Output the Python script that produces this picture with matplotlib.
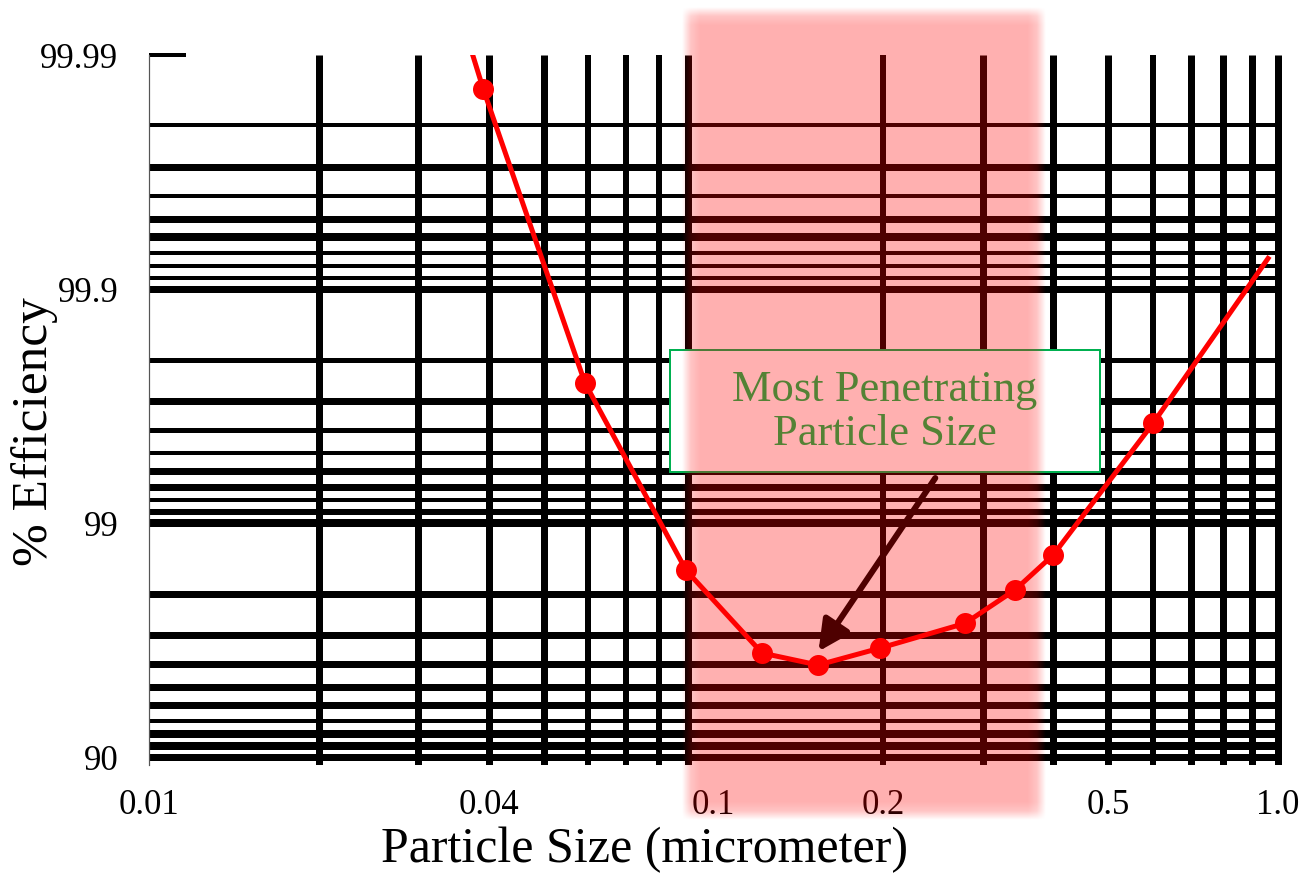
import numpy as np
import matplotlib
matplotlib.use("Agg")
import matplotlib.pyplot as plt
from matplotlib.patches import Rectangle

# ---------------- data ----------------
particle_size = [0.037, 0.0391, 0.0592, 0.0894, 0.1219, 0.1532, 0.1972, 0.279, 0.342, 0.3995, 0.601, 0.960]
efficiency = [99.9909, 99.986, 99.748, 98.41, 96.41, 95.96, 96.58, 97.32, 98.07, 98.63, 99.626, 99.926]

x_ticks = [0.01, 0.04, 0.1, 0.2, 0.5, 1.0]
x_tick_labels = ["0.01", "0.04", "0.1", "0.2", "0.5", "1.0"]
y_ticks = [90, 99, 99.9, 99.99]
y_tick_labels = ["90", "99", "99.9", "99.99"]

# grid (log paper)
x_grid = [0.02, 0.03, 0.04, 0.05, 0.06, 0.07, 0.08, 0.09,
          0.2, 0.3, 0.4, 0.5, 0.6, 0.7, 0.8, 0.9, 1.0]
x_grid_px = [7, 7, 7, 7, 6, 6, 6, 7, 6, 7, 7, 7, 6, 7, 7, 7, 7]
penetration_grid = [0.02, 0.03, 0.04, 0.05, 0.06, 0.07, 0.08, 0.09, 0.1,
                    0.2, 0.3, 0.4, 0.5, 0.6, 0.7, 0.8, 0.9, 1,
                    2, 3, 4, 5, 6, 7, 8, 9, 10]
y_grid_px = [4, 7, 4, 7, 8, 4, 4, 4, 7,
             5, 7, 5, 4, 7, 7, 4, 6, 8,
             7, 7, 7, 7, 7, 4, 8, 8, 7]

mpps_range = (0.088, 0.388)   # shaded "most penetrating" band
mpps_label = "Most Penetrating\nParticle Size"

# ---------------- figure ----------------
DPI = 100
fig = plt.figure(figsize=(13.03, 8.73), dpi=DPI)
ax = fig.add_axes([149 / 1303, (873 - 765) / 873, (1282 - 149) / 1303, (765 - 55) / 873])

def fwd(y):
    y = np.asarray(y, dtype=float)
    return -np.log10(np.clip(100.0 - y, 1e-9, None))

def inv(v):
    v = np.asarray(v, dtype=float)
    return 100.0 - 10.0 ** (-v)

ax.set_xscale("log")
ax.set_yscale("function", functions=(fwd, inv))

PX = 72.0 / DPI  # points per pixel
serif = ["Liberation Serif", "DejaVu Serif"]

# grid lines
for xv, w in zip(x_grid, x_grid_px):
    ax.axvline(xv, color="black", lw=w * PX, zorder=1, solid_capstyle="butt")
for pv, w in zip(penetration_grid, y_grid_px):
    ax.axhline(100 - pv, color="black", lw=w * PX, zorder=1, solid_capstyle="butt")

# annotation box (white face, under the pink band)
box = Rectangle((0.460, 0.4127), 0.379, 0.1718, transform=ax.transAxes,
                facecolor="white", edgecolor="#00B050", lw=2 * PX, zorder=2)
ax.add_patch(box)

# arrow
ax.annotate("", xy=(0.5909, 0.160), xytext=(0.694, 0.4042),
            xycoords="axes fraction", textcoords="axes fraction",
            arrowprops=dict(arrowstyle="-|>", color="black", lw=6 * PX,
                            mutation_scale=46, shrinkA=0, shrinkB=0),
            zorder=3)

# data line
ax.plot(particle_size, efficiency, color="#FF0000", lw=5 * PX, zorder=5,
        marker="o", markersize=21 * PX, markevery=list(range(1, len(particle_size) - 1)),
        markeredgewidth=0)

ax.set_xlim(0.01, 1.0164)
ax.set_ylim(89.2, 99.99)

# pink translucent band with soft edges (drawn after limits are set)
fig.canvas.draw()
disp = ax.transData.transform([(mpps_range[0], 99), (mpps_range[1], 99)])
x0_px, x1_px = disp[0][0], disp[1][0]
y0_px, y1_px = 873 - 820, 873 - 8
W = int(round(x1_px - x0_px))
H = int(round(y1_px - y0_px))
blur = 9.0
xs = np.arange(W) + 0.5
ys = np.arange(H) + 0.5
def soft(t, n):
    d = np.minimum(t, n - t)
    return np.clip(d / blur, 0, 1) * 0.5 + np.clip(d / (2 * blur), 0, 1) * 0.5
alpha = 0.31 * np.outer(soft(ys, H), soft(xs, W))
img = np.zeros((H, W, 4))
img[..., 0] = 1.0
img[..., 3] = alpha
inv_ax = ax.transAxes.inverted()
(ex0, ey0) = inv_ax.transform((x0_px, y0_px))
(ex1, ey1) = inv_ax.transform((x1_px, y1_px))
ax.imshow(img, extent=(ex0, ex1, ey0, ey1), transform=ax.transAxes, origin="lower",
          aspect="auto", interpolation="bilinear", clip_on=False, zorder=4)
ax.set_xlim(0.01, 1.0164)
ax.set_ylim(89.2, 99.99)

# annotation text (above pink)
ax.text(0.6496, 0.497, mpps_label, transform=ax.transAxes, ha="center", va="center",
        color="#548235", fontsize=32, family=serif, linespacing=1.12, zorder=6)

# ticks
ax.set_xticks(x_ticks)
ax.set_xticklabels(x_tick_labels, family=serif, fontsize=25)
ax.xaxis.set_minor_locator(matplotlib.ticker.NullLocator())
ax.tick_params(axis="x", length=0, pad=17)
ax.set_yticks(y_ticks)
ax.set_yticklabels(y_tick_labels, family=serif, fontsize=25)
ax.yaxis.set_minor_locator(matplotlib.ticker.NullLocator())
ax.tick_params(axis="y", direction="in", length=37 * PX, width=4 * PX, pad=22, color="black")

for s in ["top", "right", "bottom"]:
    ax.spines[s].set_visible(False)
ax.spines["left"].set_linewidth(1.2 * PX)
ax.spines["left"].set_color("#555555")
ax.set_facecolor("white")

ax.set_xlabel("Particle Size (micrometer)", family=serif, fontsize=36)
ax.xaxis.label.set_va("center")
ax.xaxis.set_label_coords((645 - 149) / 1133, (765 - 850) / 710)
ax.set_ylabel("% Efficiency", family=serif, fontsize=37)
ax.yaxis.label.set_va("center")
ax.yaxis.set_label_coords((35 - 149) / 1133, (765 - 432) / 710)

fig.savefig("out.png", dpi=DPI)
